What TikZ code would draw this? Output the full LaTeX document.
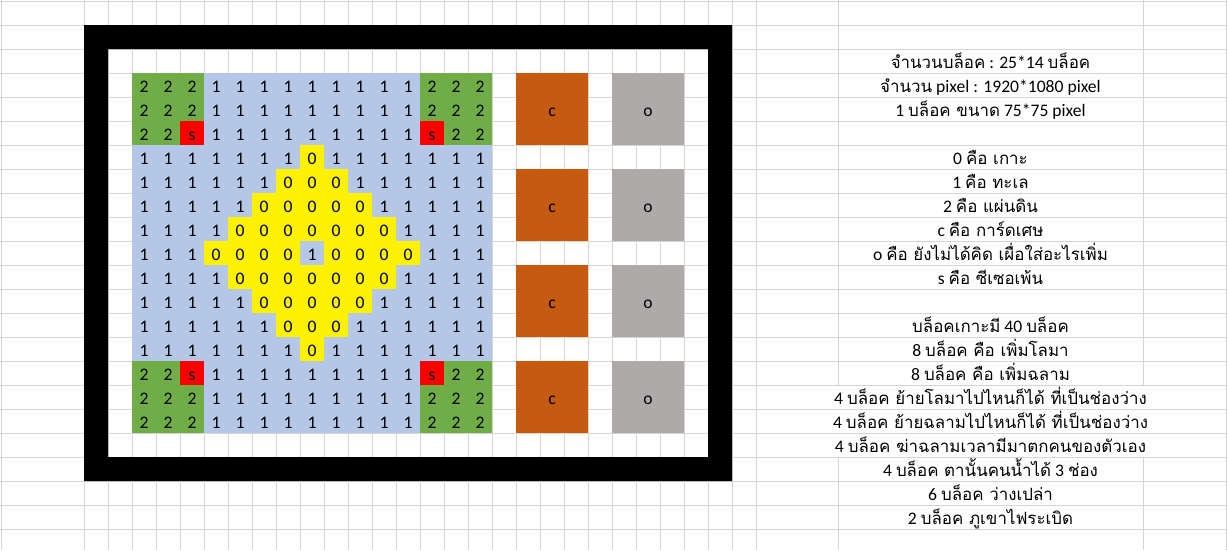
\documentclass[tikz,border=0pt]{standalone}
\usepackage{fontspec}
\setmainfont{Carlito}
\newfontfamily\thaifont[Script=Thai,Scale=0.96]{Loma}
\newcommand{\tha}[1]{{\thaifont #1}}
\usetikzlibrary{positioning}
\definecolor{gridgray}{HTML}{D4D4D4}
\definecolor{landgreen}{HTML}{70AD47}
\definecolor{seablue}{HTML}{B4C7E7}
\definecolor{cardorange}{HTML}{C55A11}
\definecolor{sparegray}{HTML}{AEAAAA}
\tikzset{cell/.style={minimum width=24.4pt,minimum height=24.4pt,inner sep=0pt,text height=14pt,text depth=0pt,font=\fontsize{17.6}{20}\selectfont},
  t0/.style={fill=yellow},
  t1/.style={fill=seablue},
  t2/.style={fill=landgreen},
  ts/.style={fill=red},
  card/.style={cell,minimum width=72pt,minimum height=72pt,fill=cardorange},
  spare/.style={cell,minimum width=72pt,minimum height=72pt,fill=sparegray},
  note/.style={inner sep=0pt,text height=14pt,text depth=0pt,font=\fontsize{17.6}{20}\selectfont}}

\begin{document}
\begin{tikzpicture}[x=1pt,y=-1pt]
    \useasboundingbox (0,0) rectangle (1227,550);
    \fill[white] (0,0) rectangle (1227,550);

    \foreach \k in {0,...,22}
        \draw[gridgray,line width=1pt] (0,1+24*\k) -- (1227,1+24*\k);
    \draw[gridgray,line width=1pt] (1,0) -- (1,550);
    \foreach \gx in {84,108,...,756}
        \draw[gridgray,line width=1pt] (\gx,0) -- (\gx,550);
    \foreach \gx in {838,1143} {
        \draw[gridgray,line width=1pt] (\gx,0) -- (\gx,385);
        \draw[gridgray,line width=1pt] (\gx,457) -- (\gx,550);
    }
    \draw[gridgray,line width=1pt] (1226,0) -- (1226,550);

    \fill[black,even odd rule] (84,25) rectangle (732,481) (108,49) rectangle (708,457);

    \foreach \row [count=\r] in {
        {2,2,2,1,1,1,1,1,1,1,1,1,2,2,2},
        {2,2,2,1,1,1,1,1,1,1,1,1,2,2,2},
        {2,2,s,1,1,1,1,1,1,1,1,1,s,2,2},
        {1,1,1,1,1,1,1,0,1,1,1,1,1,1,1},
        {1,1,1,1,1,1,0,0,0,1,1,1,1,1,1},
        {1,1,1,1,1,0,0,0,0,0,1,1,1,1,1},
        {1,1,1,1,0,0,0,0,0,0,0,1,1,1,1},
        {1,1,1,0,0,0,0,1,0,0,0,0,1,1,1},
        {1,1,1,1,0,0,0,0,0,0,0,1,1,1,1},
        {1,1,1,1,1,0,0,0,0,0,1,1,1,1,1},
        {1,1,1,1,1,1,0,0,0,1,1,1,1,1,1},
        {1,1,1,1,1,1,1,0,1,1,1,1,1,1,1},
        {2,2,s,1,1,1,1,1,1,1,1,1,s,2,2},
        {2,2,2,1,1,1,1,1,1,1,1,1,2,2,2},
        {2,2,2,1,1,1,1,1,1,1,1,1,2,2,2}}
        \foreach \v [count=\c] in \row
            \node[cell,t\v] (m-\r-\c) at (120+24*\c,61+24*\r) {\v};

    \foreach \k in {1,...,4} {
        \node[card] (card-\k) at (552,13+96*\k) {c};
        \node[spare] (spare-\k) at (648,13+96*\k) {o};
    }

    \node[note] (n1) at (990.5,61) {\tha{จำนวนบล็อค} : 25*14 \tha{บล็อค}};
    \node[note] (n2) at (990.5,85) {\tha{จำนวน} pixel : 1920*1080 pixel};
    \node[note] (n3) at (990.5,109) {1 \tha{บล็อค ขนาด} 75*75 pixel};
    \node[note] (n4) at (990.5,157) {0 \tha{คือ เกาะ}};
    \node[note] (n5) at (990.5,181) {1 \tha{คือ ทะเล}};
    \node[note] (n6) at (990.5,205) {2 \tha{คือ แผ่นดิน}};
    \node[note] (n7) at (990.5,229) {c \tha{คือ การ์ดเศษ}};
    \node[note] (n8) at (990.5,253) {o \tha{คือ ยังไม่ได้คิด เผื่อใส่อะไรเพิ่ม}};
    \node[note] (n9) at (990.5,277) {s \tha{คือ ซีเซอเพ้น}};
    \node[note] (n10) at (990.5,325) {\tha{บล็อคเกาะมี} 40 \tha{บล็อค}};
    \node[note] (n11) at (990.5,349) {8 \tha{บล็อค คือ เพิ่มโลมา}};
    \node[note] (n12) at (990.5,373) {8 \tha{บล็อค คือ เพิ่มฉลาม}};
    \node[note] (n13) at (990.5,397) {4 \tha{บล็อค ย้ายโลมาไปไหนก็ได้ ที่เป็นช่องว่าง}};
    \node[note] (n14) at (990.5,421) {4 \tha{บล็อค ย้ายฉลามไปไหนก็ได้ ที่เป็นช่องว่าง}};
    \node[note] (n15) at (990.5,445) {4 \tha{บล็อค ฆ่าฉลามเวลามีมาตกคนของตัวเอง}};
    \node[note] (n16) at (990.5,469) {4 \tha{บล็อค ตานั้นคนน้ำได้} 3 \tha{ช่อง}};
    \node[note] (n17) at (990.5,493) {6 \tha{บล็อค ว่างเปล่า}};
    \node[note] (n18) at (990.5,517) {2 \tha{บล็อค ภูเขาไฟระเบิด}};
\end{tikzpicture}
\end{document}
